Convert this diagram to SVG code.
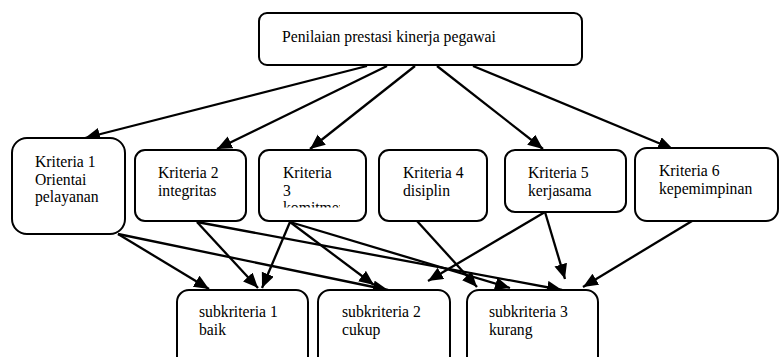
<svg xmlns="http://www.w3.org/2000/svg" width="780" height="357" viewBox="0 0 780 357">
  <style>
    .box { fill: #ffffff; stroke: #000000; stroke-width: 2; }
    .lbl { font-family: "Liberation Serif", "Times New Roman", serif; font-size: 15.7px; fill: #000000; }
    .edge { stroke: #000000; stroke-width: 2.3; fill: none; marker-end: url(#head); }
  </style>
  <defs>
    <marker id="head" markerUnits="userSpaceOnUse" markerWidth="16" markerHeight="14" refX="15" refY="6.5" orient="auto">
      <path d="M0,0 L15,6.5 L0,13 z" fill="#000000"/>
    </marker>
    <!-- the third line of the "Kriteria 3" label overflows its box and is cut off -->
    <clipPath id="k3clip">
      <rect x="262" y="150" width="78" height="57.5"/>
    </clipPath>
  </defs>

  <rect width="780" height="357" fill="#ffffff"/>

  <!-- connectors -->
  <g id="connectors">
    <!-- top node to criteria -->
    <line class="edge" x1="367" y1="66" x2="85" y2="138"/>
    <line class="edge" x1="387" y1="66" x2="217" y2="149"/>
    <line class="edge" x1="415" y1="66" x2="310" y2="149"/>
    <line class="edge" x1="437" y1="66" x2="543" y2="149"/>
    <line class="edge" x1="473" y1="66" x2="673" y2="149"/>
    <!-- criteria to sub-criteria -->
    <line class="edge" x1="118" y1="234" x2="209" y2="289"/>
    <line class="edge" x1="118" y1="234" x2="388" y2="290"/>
    <line class="edge" x1="197" y1="222" x2="258" y2="288"/>
    <line class="edge" x1="197" y1="222" x2="562" y2="290"/>
    <line class="edge" x1="290" y1="222" x2="262" y2="288"/>
    <line class="edge" x1="290" y1="222" x2="374" y2="285"/>
    <line class="edge" x1="290" y1="222" x2="510" y2="288"/>
    <line class="edge" x1="417" y1="221" x2="477" y2="287"/>
    <line class="edge" x1="545" y1="212" x2="428" y2="281"/>
    <line class="edge" x1="545" y1="212" x2="565" y2="279"/>
    <line class="edge" x1="692" y1="221" x2="583" y2="287"/>
  </g>

  <g id="penilaian">
    <rect class="box" x="259" y="13" width="323" height="52" rx="8"/>
    <text class="lbl" x="282" y="42">Penilaian prestasi kinerja pegawai</text>
  </g>

  <g id="kriteria1">
    <rect class="box" x="12" y="138" width="113" height="96" rx="15"/>
    <text class="lbl" x="35" y="167">Kriteria 1</text>
    <text class="lbl" x="35" y="184.5">Orientai</text>
    <text class="lbl" x="35" y="202">pelayanan</text>
  </g>

  <g id="kriteria2">
    <rect class="box" x="135" y="150" width="111" height="71" rx="10"/>
    <text class="lbl" x="158" y="178">Kriteria 2</text>
    <text class="lbl" x="158" y="195.5">integritas</text>
  </g>

  <g id="kriteria3">
    <rect class="box" x="259" y="150" width="107" height="71" rx="10"/>
    <g clip-path="url(#k3clip)">
      <text class="lbl" x="283" y="178">Kriteria</text>
      <text class="lbl" x="283" y="195.5">3</text>
      <text class="lbl" x="283" y="213">komitmen</text>
    </g>
  </g>

  <g id="kriteria4">
    <rect class="box" x="379" y="150" width="108" height="71" rx="10"/>
    <text class="lbl" x="403" y="178">Kriteria 4</text>
    <text class="lbl" x="403" y="195.5">disiplin</text>
  </g>

  <g id="kriteria5">
    <rect class="box" x="505" y="150" width="121" height="62" rx="10"/>
    <text class="lbl" x="528" y="178">Kriteria 5</text>
    <text class="lbl" x="528" y="195.5">kerjasama</text>
  </g>

  <g id="kriteria6">
    <rect class="box" x="635" y="148" width="143" height="73" rx="12"/>
    <text class="lbl" x="659" y="176">Kriteria 6</text>
    <text class="lbl" x="659" y="193.5">kepemimpinan</text>
  </g>

  <g id="subkriteria1">
    <rect class="box" x="177" y="290" width="131" height="80" rx="12"/>
    <text class="lbl" x="199" y="317">subkriteria 1</text>
    <text class="lbl" x="199" y="335">baik</text>
  </g>

  <g id="subkriteria2">
    <rect class="box" x="318" y="290" width="132" height="80" rx="12"/>
    <text class="lbl" x="342" y="317">subkriteria 2</text>
    <text class="lbl" x="342" y="335">cukup</text>
  </g>

  <g id="subkriteria3">
    <rect class="box" x="467" y="290" width="131" height="80" rx="12"/>
    <text class="lbl" x="489" y="317">subkriteria 3</text>
    <text class="lbl" x="489" y="335">kurang</text>
  </g>
</svg>
